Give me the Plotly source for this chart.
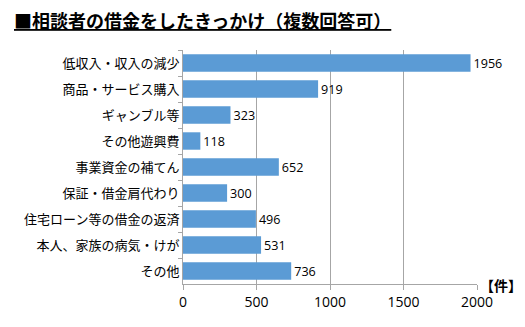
import plotly.graph_objects as go

categories = ["低収入・収入の減少", "商品・サービス購入", "ギャンブル等", "その他遊興費",
              "事業資金の補てん", "保証・借金肩代わり", "住宅ローン等の借金の返済",
              "本人、家族の病気・けが", "その他"]
values = [1956, 919, 323, 118, 652, 300, 496, 531, 736]
x_ticks = [0, 500, 1000, 1500, 2000]

FONT = "Noto Sans CJK JP"
L, R, T, B, W, H = 183, 48, 50, 43, 525, 327
PW, PH = W - L - R, H - T - B

fig = go.Figure(go.Bar(
    x=values, y=categories, orientation="h",
    marker=dict(color="#5B9BD5", line=dict(width=0)),
    text=[str(v) for v in values], textposition="outside",
    textfont=dict(family="Open Sans, sans-serif", size=13, color="#000000"),
    cliponaxis=False,
))

fig.update_layout(
    width=W, height=H,
    margin=dict(l=L, r=R, t=T, b=B),
    paper_bgcolor="white", plot_bgcolor="white",
    bargap=0.33,
    showlegend=False,
    xaxis=dict(range=[0, 2000], tickvals=x_ticks, ticktext=[str(t) for t in x_ticks],
               showgrid=True, gridcolor="#A6A6A6", gridwidth=1,
               showline=True, linecolor="#A6A6A6", linewidth=1,
               ticks="outside", ticklen=5, tickcolor="#A6A6A6",
               tickfont=dict(family="Open Sans, sans-serif", size=14, color="#000000"),
               zeroline=False, fixedrange=True),
    yaxis=dict(autorange="reversed", showline=True, linecolor="#A6A6A6", linewidth=1,
               ticks="outside", ticklen=4, tickcolor="#A6A6A6", tickson="boundaries",
               tickfont=dict(family=FONT, size=13, color="#000000"),
               showgrid=False, fixedrange=True),
    annotations=[
        dict(text="<b><u>■相談者の借金をしたきっかけ（複数回答可）</u></b>",
             x=(12 - L) / PW, y=1 + (T - 20) / PH, xref="paper", yref="paper",
             showarrow=False, xanchor="left", yanchor="middle",
             font=dict(family=FONT, size=18, color="#000000")),
        dict(text="<b>【件】</b>", x=(524 - L) / PW, y=1 - (285 - T) / PH,
             xref="paper", yref="paper", showarrow=False,
             xanchor="right", yanchor="middle",
             font=dict(family=FONT, size=14, color="#000000")),
    ],
)

fig.write_html("out.html")
